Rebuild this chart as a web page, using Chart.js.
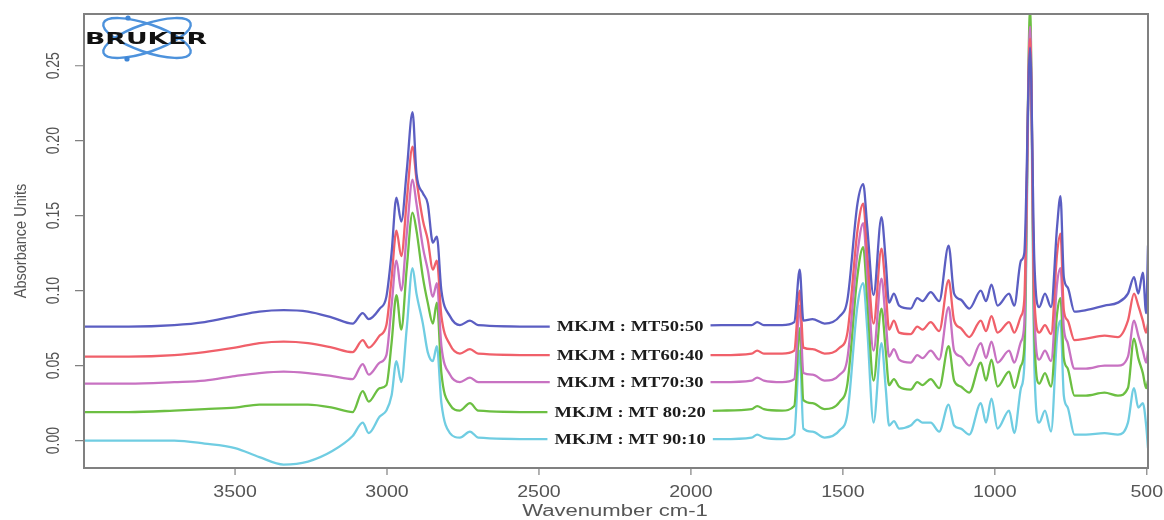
<!DOCTYPE html>
<html>
<head>
<meta charset="utf-8">
<script src="https://cdn.jsdelivr.net/npm/chart.js@4.4.1/dist/chart.umd.min.js"></script>
<style>
  body { margin: 0; background: #fff; }
  canvas { display: block; }
</style>
</head>
<body>
<canvas id="ftir" width="1164" height="520"></canvas>
<script>
// wavenumber grid (cm-1), shared by all spectra
const wavenumbers = [4000, 3850, 3700, 3600, 3500, 3420, 3340, 3260, 3180, 3113,
  3080, 3060, 3024, 3002, 2985, 2969, 2953, 2935, 2916, 2903,
  2882, 2866, 2849, 2836, 2821, 2793, 2760, 2727, 2700, 2500,
  2300, 2100, 1900, 1800, 1782, 1760, 1700, 1660, 1642, 1630,
  1600, 1560, 1510, 1485, 1452, 1433, 1420, 1399, 1373, 1359,
  1348, 1332, 1315, 1277, 1255, 1238, 1211, 1183, 1152, 1134,
  1112, 1084, 1046, 1029, 1011, 991, 953, 936, 914, 903,
  884, 870, 854, 835, 815, 795, 784, 773, 760, 738,
  700, 639, 595, 562, 542, 528, 513, 502, 496];

const mt5050 = [0.076, 0.076, 0.077, 0.079, 0.083, 0.086, 0.087, 0.086, 0.082, 0.078,
  0.085, 0.081, 0.088, 0.096, 0.125, 0.162, 0.146, 0.180, 0.219, 0.178,
  0.165, 0.158, 0.132, 0.136, 0.100, 0.083, 0.077, 0.080, 0.077, 0.076,
  0.076, 0.076, 0.077, 0.077, 0.079, 0.077, 0.077, 0.079, 0.114, 0.080,
  0.081, 0.078, 0.083, 0.094, 0.158, 0.171, 0.143, 0.097, 0.149, 0.120,
  0.092, 0.098, 0.090, 0.088, 0.095, 0.093, 0.099, 0.093, 0.130, 0.098,
  0.094, 0.088, 0.100, 0.093, 0.104, 0.090, 0.098, 0.090, 0.120, 0.125,
  0.262, 0.120, 0.089, 0.098, 0.089, 0.143, 0.163, 0.109, 0.102, 0.086,
  0.087, 0.090, 0.092, 0.098, 0.109, 0.098, 0.112, 0.085, 0.130];

const mt6040 = [0.056, 0.056, 0.057, 0.059, 0.062, 0.065, 0.066, 0.065, 0.062, 0.059,
  0.067, 0.062, 0.070, 0.077, 0.108, 0.140, 0.123, 0.160, 0.196, 0.174,
  0.147, 0.134, 0.114, 0.120, 0.083, 0.064, 0.058, 0.061, 0.058, 0.057,
  0.057, 0.057, 0.057, 0.058, 0.060, 0.058, 0.058, 0.060, 0.100, 0.062,
  0.061, 0.058, 0.062, 0.072, 0.140, 0.158, 0.125, 0.078, 0.128, 0.100,
  0.074, 0.080, 0.072, 0.071, 0.076, 0.074, 0.079, 0.073, 0.107, 0.080,
  0.075, 0.069, 0.080, 0.073, 0.083, 0.072, 0.079, 0.072, 0.083, 0.094,
  0.268, 0.095, 0.072, 0.077, 0.071, 0.125, 0.138, 0.087, 0.080, 0.067,
  0.068, 0.070, 0.069, 0.080, 0.098, 0.090, 0.080, 0.072, 0.078];

const mt7030 = [0.038, 0.038, 0.039, 0.040, 0.043, 0.045, 0.046, 0.045, 0.043, 0.041,
  0.051, 0.044, 0.052, 0.057, 0.090, 0.120, 0.100, 0.138, 0.174, 0.158,
  0.129, 0.114, 0.096, 0.105, 0.063, 0.044, 0.039, 0.042, 0.039, 0.039,
  0.039, 0.039, 0.039, 0.040, 0.042, 0.040, 0.039, 0.041, 0.090, 0.045,
  0.044, 0.040, 0.044, 0.055, 0.125, 0.145, 0.112, 0.060, 0.108, 0.080,
  0.056, 0.061, 0.054, 0.052, 0.057, 0.055, 0.060, 0.054, 0.089, 0.060,
  0.056, 0.050, 0.065, 0.055, 0.066, 0.052, 0.060, 0.052, 0.066, 0.078,
  0.276, 0.085, 0.054, 0.060, 0.053, 0.105, 0.115, 0.075, 0.065, 0.048,
  0.048, 0.050, 0.050, 0.056, 0.080, 0.070, 0.060, 0.052, 0.060];

const mt8020 = [0.019, 0.019, 0.020, 0.021, 0.022, 0.024, 0.024, 0.024, 0.022, 0.019,
  0.033, 0.026, 0.035, 0.037, 0.065, 0.097, 0.074, 0.115, 0.152, 0.140,
  0.109, 0.092, 0.078, 0.092, 0.045, 0.024, 0.020, 0.025, 0.020, 0.019,
  0.019, 0.019, 0.020, 0.021, 0.023, 0.021, 0.020, 0.023, 0.075, 0.027,
  0.025, 0.021, 0.026, 0.038, 0.110, 0.129, 0.095, 0.040, 0.088, 0.060,
  0.037, 0.041, 0.036, 0.034, 0.039, 0.037, 0.041, 0.035, 0.063, 0.040,
  0.036, 0.032, 0.052, 0.040, 0.054, 0.036, 0.046, 0.035, 0.050, 0.062,
  0.288, 0.070, 0.038, 0.045, 0.036, 0.085, 0.095, 0.055, 0.048, 0.030,
  0.030, 0.032, 0.030, 0.035, 0.068, 0.055, 0.045, 0.035, 0.040];

const mt9010 = [0.000, 0.000, 0.000, -0.002, -0.005, -0.011, -0.016, -0.014, -0.007, 0.003,
  0.012, 0.005, 0.016, 0.020, 0.030, 0.053, 0.039, 0.075, 0.115, 0.098,
  0.078, 0.059, 0.053, 0.063, 0.025, 0.005, 0.002, 0.006, 0.002, 0.001,
  0.001, 0.001, 0.001, 0.002, 0.004, 0.002, 0.001, 0.004, 0.060, 0.008,
  0.006, 0.002, 0.007, 0.018, 0.090, 0.105, 0.075, 0.012, 0.065, 0.035,
  0.010, 0.013, 0.008, 0.010, 0.014, 0.012, 0.012, 0.006, 0.024, 0.010,
  0.008, 0.004, 0.025, 0.012, 0.028, 0.008, 0.020, 0.005, 0.035, 0.050,
  0.270, 0.050, 0.012, 0.020, 0.006, 0.070, 0.080, 0.030, 0.022, 0.004,
  0.004, 0.005, 0.004, 0.012, 0.035, 0.022, 0.025, 0.010, -0.005];

const seriesNames = ['MKJM : MT50:50', 'MKJM : MT60:40', 'MKJM : MT70:30', 'MKJM : MT 80:20', 'MKJM : MT 90:10'];
const seriesValues = [mt5050, mt6040, mt7030, mt8020, mt9010];
const seriesColors = ['#5b5ec2', '#f0606a', '#c872c2', '#6cbf42', '#70cde2'];

const xTicks = [3500, 3000, 2500, 2000, 1500, 1000, 500];
const yTicks = [0.00, 0.05, 0.10, 0.15, 0.20, 0.25];
const labelWavenumber = 2200;   // where the sample labels sit on each trace
const labelIndex = 31;          // grid point used for the label height

const axisGrey = '#808080';
const textGrey = '#555';

function stretchText(ctx, text, x, y, sx, sy, rot) {
  ctx.save();
  ctx.translate(x, y);
  if (rot) ctx.rotate(rot);
  ctx.scale(sx, sy);
  ctx.fillText(text, 0, 0);
  ctx.restore();
}

const decor = {
  id: 'decor',
  afterDatasetsDraw(chart) {
    const ctx = chart.ctx;
    const xs = chart.scales.x, ys = chart.scales.y;
    ctx.save();
    ctx.font = 'bold 14px "Liberation Serif"';
    ctx.textAlign = 'center';
    ctx.textBaseline = 'middle';
    seriesNames.forEach((name, i) => {
      const px = xs.getPixelForValue(labelWavenumber);
      const py = ys.getPixelForValue(seriesValues[i][labelIndex]);
      const w = ctx.measureText(name).width * 1.32;
      ctx.fillStyle = '#fff';
      ctx.fillRect(px - w / 2 - 7, py - 9, w + 14, 18);
      ctx.fillStyle = '#1c1c1c';
      stretchText(ctx, name, px, py + 1, 1.32, 1, 0);
    });
    ctx.restore();
  },
  afterDraw(chart) {
    const ctx = chart.ctx;
    const a = chart.chartArea;
    const xs = chart.scales.x, ys = chart.scales.y;
    ctx.save();
    // frame
    ctx.strokeStyle = axisGrey;
    ctx.lineWidth = 2;
    ctx.strokeRect(a.left, a.top, a.right - a.left, a.bottom - a.top);
    ctx.lineWidth = 1.2;
    ctx.beginPath();
    xTicks.forEach(t => {
      const px = xs.getPixelForValue(t);
      ctx.moveTo(px, a.bottom); ctx.lineTo(px, a.bottom + 7);
    });
    yTicks.forEach(t => {
      const py = ys.getPixelForValue(t);
      ctx.moveTo(a.left, py); ctx.lineTo(a.left - 9, py);
    });
    ctx.stroke();

    // tick labels
    ctx.fillStyle = textGrey;
    ctx.textAlign = 'center';
    ctx.textBaseline = 'middle';
    ctx.font = '17px "Liberation Sans"';
    xTicks.forEach(t => {
      stretchText(ctx, String(t), xs.getPixelForValue(t), 492, 1.15, 1, 0);
    });
    ctx.font = '14px "Liberation Sans"';
    yTicks.forEach(t => {
      stretchText(ctx, t.toFixed(2), 54, ys.getPixelForValue(t), 1, 1.35, -Math.PI / 2);
    });

    // axis titles
    ctx.font = '16px "Liberation Sans"';
    stretchText(ctx, 'Wavenumber cm-1', 615, 512, 1.38, 1, 0);
    ctx.font = '14.5px "Liberation Sans"';
    stretchText(ctx, 'Absorbance Units', 21, 241, 1, 1.15, -Math.PI / 2);

    // Bruker logo
    ctx.strokeStyle = '#4d92dc';
    ctx.lineWidth = 2.4;
    [0.33, -0.33].forEach(r => {
      ctx.beginPath();
      ctx.ellipse(147, 38, 46, 14, r, 0, Math.PI * 2);
      ctx.stroke();
    });
    ctx.fillStyle = '#3f86d6';
    ctx.beginPath(); ctx.arc(128, 18, 2.6, 0, Math.PI * 2); ctx.fill();
    ctx.beginPath(); ctx.arc(127, 59, 2.6, 0, Math.PI * 2); ctx.fill();
    ctx.fillStyle = '#111';
    ctx.font = 'bold 15px "DejaVu Sans"';
    ctx.textAlign = 'center';
    const bw = ctx.measureText('BRUKER').width;
    stretchText(ctx, 'BRUKER', 146, 40, 122 / bw, 1, 0);
    ctx.restore();
  }
};

const ctx = document.getElementById('ftir').getContext('2d');
new Chart(ctx, {
  type: 'line',
  data: {
    datasets: seriesValues.map((vals, i) => ({
      label: seriesNames[i],
      data: wavenumbers.map((w, j) => ({ x: w, y: vals[j] })),
      borderColor: seriesColors[i],
      borderWidth: 2.3,
      pointRadius: 0,
      cubicInterpolationMode: 'monotone',
      fill: false,
    })),
  },
  options: {
    responsive: false,
    animation: false,
    layout: { padding: { left: 84, right: 16, top: 14, bottom: 52 } },
    plugins: { legend: { display: false }, tooltip: { enabled: false } },
    scales: {
      x: { type: 'linear', reverse: true, min: 496, max: 3997, display: false },
      y: { type: 'linear', min: -0.0183, max: 0.2845, display: false },
    },
  },
  plugins: [decor],
});
</script>
</body>
</html>
